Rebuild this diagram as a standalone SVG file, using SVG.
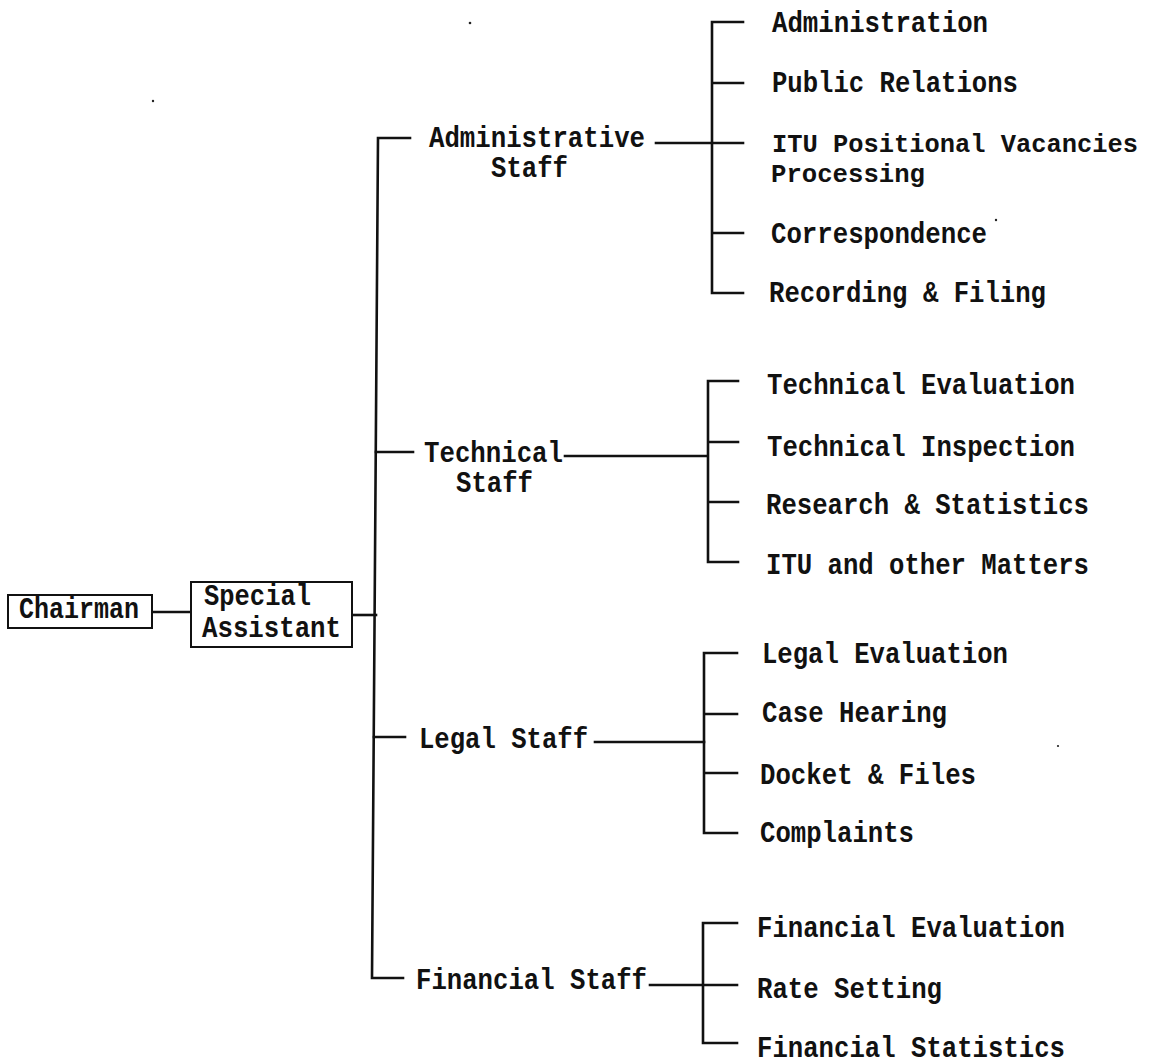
<svg xmlns="http://www.w3.org/2000/svg" width="1149" height="1064" viewBox="0 0 1149 1064">
<style>
text{font-family:"Liberation Mono","Courier New",monospace;font-size:29px;font-weight:bold;fill:#111}
text.s{font-size:26px}
.c{fill:none;stroke:#111;stroke-width:2.6;stroke-linecap:square}
.box{fill:#fff;stroke:#111;stroke-width:2}
.dot{fill:#222}
</style>
<rect width="1149" height="1064" fill="#fff"/>
<g id="connectors" class="c">
<path d="M152 612H191"/>
<path d="M352 615H376"/>
<path d="M410 138H378L372 978H403"/>
<path d="M376 452H413"/>
<path d="M374 737H405"/>
<path d="M656 143H743"/>
<path d="M743 22H712V293H743M712 83H743M712 233H743"/>
<path d="M565 456H707"/>
<path d="M738 381H708V562H738M708 442H738M708 502H738"/>
<path d="M595 742H704"/>
<path d="M737 653H704V833H737M704 714H737M704 773H737"/>
<path d="M650 985H737"/>
<path d="M737 923H703V1043H737"/>
</g>
<g id="chairman"><rect class="box" x="8" y="595" width="144" height="33"/><text x="19" y="618" textLength="120" lengthAdjust="spacingAndGlyphs">Chairman</text></g>
<g id="special-assistant"><rect class="box" x="191" y="582" width="161" height="65"/><text><tspan x="204" y="605" textLength="107" lengthAdjust="spacingAndGlyphs">Special</tspan><tspan x="202" y="637" textLength="139" lengthAdjust="spacingAndGlyphs">Assistant</tspan></text></g>
<g id="administrative-staff"><text><tspan x="429" y="147" textLength="216" lengthAdjust="spacingAndGlyphs">Administrative</tspan><tspan x="491" y="177" textLength="77" lengthAdjust="spacingAndGlyphs">Staff</tspan></text></g>
<g id="technical-staff"><text><tspan x="424" y="462" textLength="139" lengthAdjust="spacingAndGlyphs">Technical</tspan><tspan x="456" y="492" textLength="77" lengthAdjust="spacingAndGlyphs">Staff</tspan></text></g>
<g id="legal-staff"><text x="419" y="748" textLength="169" lengthAdjust="spacingAndGlyphs">Legal Staff</text></g>
<g id="financial-staff"><text x="416" y="989" textLength="231" lengthAdjust="spacingAndGlyphs">Financial Staff</text></g>
<g id="administration"><text x="772" y="32" textLength="216" lengthAdjust="spacingAndGlyphs">Administration</text></g>
<g id="public-relations"><text x="772" y="92" textLength="246" lengthAdjust="spacingAndGlyphs">Public Relations</text></g>
<g id="itu-vacancies"><text class="s"><tspan x="772" y="152" textLength="366" lengthAdjust="spacingAndGlyphs">ITU Positional Vacancies</tspan><tspan x="771" y="182" textLength="154" lengthAdjust="spacingAndGlyphs">Processing</tspan></text></g>
<g id="correspondence"><text x="771" y="243" textLength="216" lengthAdjust="spacingAndGlyphs">Correspondence</text></g>
<g id="recording-filing"><text x="769" y="302" textLength="277" lengthAdjust="spacingAndGlyphs">Recording &amp; Filing</text></g>
<g id="technical-evaluation"><text x="767" y="394" textLength="308" lengthAdjust="spacingAndGlyphs">Technical Evaluation</text></g>
<g id="technical-inspection"><text x="767" y="456" textLength="308" lengthAdjust="spacingAndGlyphs">Technical Inspection</text></g>
<g id="research-statistics"><text x="766" y="514" textLength="323" lengthAdjust="spacingAndGlyphs">Research &amp; Statistics</text></g>
<g id="itu-other"><text x="766" y="574" textLength="323" lengthAdjust="spacingAndGlyphs">ITU and other Matters</text></g>
<g id="legal-evaluation"><text x="762" y="663" textLength="246" lengthAdjust="spacingAndGlyphs">Legal Evaluation</text></g>
<g id="case-hearing"><text x="762" y="722" textLength="185" lengthAdjust="spacingAndGlyphs">Case Hearing</text></g>
<g id="docket-files"><text x="760" y="784" textLength="216" lengthAdjust="spacingAndGlyphs">Docket &amp; Files</text></g>
<g id="complaints"><text x="760" y="842" textLength="154" lengthAdjust="spacingAndGlyphs">Complaints</text></g>
<g id="financial-evaluation"><text x="757" y="937" textLength="308" lengthAdjust="spacingAndGlyphs">Financial Evaluation</text></g>
<g id="rate-setting"><text x="757" y="998" textLength="185" lengthAdjust="spacingAndGlyphs">Rate Setting</text></g>
<g id="financial-statistics"><text x="757" y="1057" textLength="308" lengthAdjust="spacingAndGlyphs">Financial Statistics</text></g>
<g id="specks"><circle class="dot" cx="470" cy="23" r="1.3"/><circle class="dot" cx="153" cy="101" r="1.2"/><circle class="dot" cx="996" cy="220" r="1.2"/><circle class="dot" cx="1058" cy="746" r="1.1"/></g>
</svg>
